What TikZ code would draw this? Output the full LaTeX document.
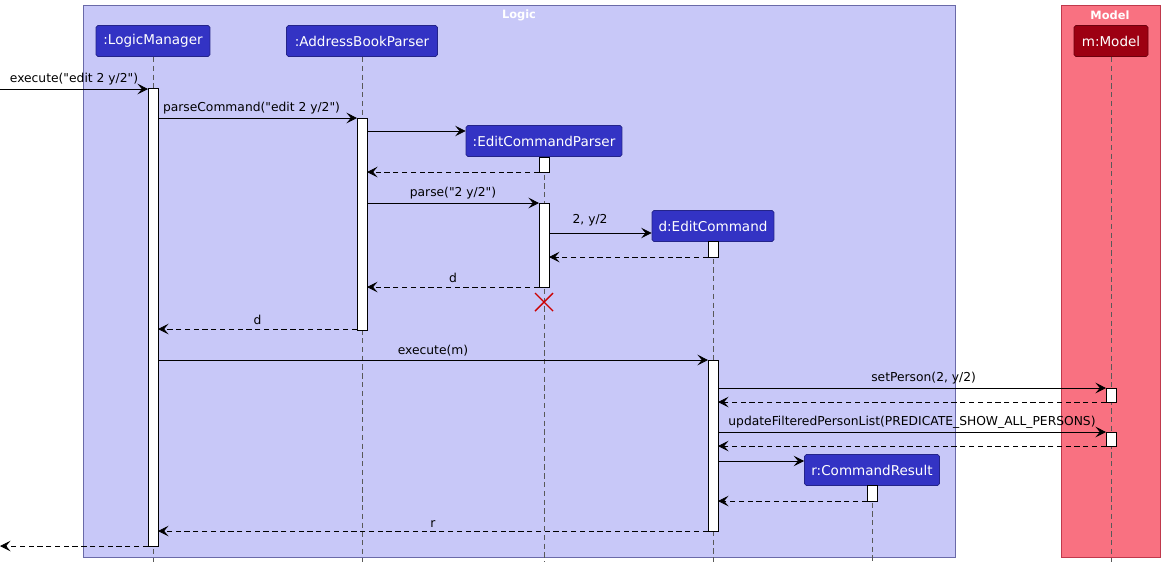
\documentclass[tikz,border=0pt]{standalone}
\usepackage{fontspec}
\setmainfont[Mapping=]{DejaVu Sans}
\usetikzlibrary{arrows.meta}
\definecolor{logicbg}{HTML}{C8C8F8}
\definecolor{logicfr}{HTML}{6A6AA8}
\definecolor{partblue}{HTML}{3333C4}
\definecolor{modelbg}{HTML}{F97181}
\definecolor{modelfr}{HTML}{C0394C}
\definecolor{partred}{HTML}{9D0012}
\newcommand\dq{\char34\relax}
\tikzset{
  part/.style={draw=#1!70!black,fill=#1,text=white,rounded corners=1pt,minimum height=0.62cm,inner xsep=3pt,font=\fontsize{7.7}{9}\selectfont},
  life/.style={densely dashed,gray!70!black,thin},
  bar/.style={draw,fill=white,thin},
  msg/.style={-{Stealth[length=6pt,width=6pt,inset=2.5pt]},thin},
  ret/.style={-{Stealth[length=6pt,width=6pt,inset=2.5pt]},thin,densely dashed},
  lbl/.style={font=\fontsize{7}{8}\selectfont,above,inner sep=2pt}
}
\begin{document}
\begin{tikzpicture}[x=0.02cm,y=-0.02cm]
\useasboundingbox (0,0) rectangle (1167,569);

% boxes
\draw[logicfr,fill=logicbg] (83,5) rectangle (955,557);
\node[text=white,font=\bfseries\fontsize{6.5}{8}\selectfont] at (519,15) {Logic};
\draw[modelfr,fill=modelbg] (1061,5) rectangle (1160,557);
\node[text=white,font=\bfseries\fontsize{6.5}{8}\selectfont] at (1110,15) {Model};

% lifelines
\draw[life] (153,57) -- (153,562);
\draw[life] (362,57) -- (362,562);
\draw[life] (544,157) -- (544,562);
\draw[life] (713,241) -- (713,562);
\draw[life] (872,485) -- (872,562);
\draw[life] (1111,57) -- (1111,562);

% participants
\node[part=partblue,minimum width=2.28cm] (lm) at (153,41) {:LogicManager};
\node[part=partblue,minimum width=3.02cm] (abp) at (362,41) {:AddressBookParser};
\node[part=partblue,minimum width=3.12cm] (ecp) at (544,141) {:EditCommandParser};
\node[part=partblue,minimum width=2.44cm] (ec) at (713,226) {d:EditCommand};
\node[part=partblue,minimum width=2.7cm] (cr) at (872,470) {r:CommandResult};
\node[part=partred,minimum width=1.48cm] (m) at (1111,41) {m:Model};

% activation bars
\draw[bar] (148,88) rectangle (158,546);
\draw[bar] (357,118) rectangle (367,330);
\draw[bar] (539,157) rectangle (549,172);
\draw[bar] (539,203) rectangle (549,287);
\draw[bar] (708,241) rectangle (718,257);
\draw[bar] (708,360) rectangle (718,531);
\draw[bar] (1106,388) rectangle (1116,402);
\draw[bar] (1106,432) rectangle (1116,446);
\draw[bar] (867,485) rectangle (877,501);

% destroy
\draw[red!80!black,thick] (535,293) -- (553,311) (553,293) -- (535,311);

% message end points
\coordinate (in0) at (0,89);      \coordinate (lm1) at (148,89);
\coordinate (lm2) at (158,118);   \coordinate (abp1) at (357,118);
\coordinate (abp2) at (367,131);
\coordinate (ecp1) at (539,172);  \coordinate (abp3) at (367,172);
\coordinate (abp4) at (367,203);  \coordinate (ecp2) at (539,203);
\coordinate (ecp3) at (549,233);
\coordinate (ec1) at (708,257);   \coordinate (ecp4) at (549,257);
\coordinate (ecp5) at (539,287);  \coordinate (abp5) at (367,287);
\coordinate (abp6) at (357,329);  \coordinate (lm3) at (158,329);
\coordinate (lm4) at (158,360);   \coordinate (ec2) at (708,360);
\coordinate (ec3) at (718,388);   \coordinate (m1) at (1106,388);
\coordinate (m2) at (1106,402);   \coordinate (ec4) at (718,402);
\coordinate (ec5) at (718,432);   \coordinate (m3) at (1106,432);
\coordinate (m4) at (1106,446);   \coordinate (ec6) at (718,446);
\coordinate (ec7) at (718,461);
\coordinate (cr1) at (867,501);   \coordinate (ec8) at (718,501);
\coordinate (ec9) at (708,531);   \coordinate (lm5) at (158,531);
\coordinate (lm6) at (148,546);   \coordinate (out0) at (0,546);

% messages
\draw[msg] (in0) -- node[lbl,pos=0.5] {execute(\dq edit 2 y/2\dq)} (lm1);
\draw[msg] (lm2) -- node[lbl,pos=0.47] {parseCommand(\dq edit 2 y/2\dq)} (abp1);
\draw[msg] (abp2) -- (ecp.west |- abp2);
\draw[ret] (ecp1) -- (abp3);
\draw[msg] (abp4) -- node[lbl] {parse(\dq 2 y/2\dq)} (ecp2);
\draw[msg] (ecp3) -- node[lbl,pos=0.4,yshift=2pt] {2, y/2} (ec.west |- ecp3);
\draw[ret] (ec1) -- (ecp4);
\draw[ret] (ecp5) -- node[lbl] {d} (abp5);
\draw[ret] (abp6) -- node[lbl] {d} (lm3);
\draw[msg] (lm4) -- node[lbl] {execute(m)} (ec2);
\draw[msg] (ec3) -- node[lbl,pos=0.53] {setPerson(2, y/2)} (m1);
\draw[ret] (m2) -- (ec4);
\draw[msg] (ec5) -- node[lbl,pos=0.5] {updateFilteredPersonList(PREDICATE\_SHOW\_ALL\_PERSONS)} (m3);
\draw[ret] (m4) -- (ec6);
\draw[msg] (ec7) -- (cr.west |- ec7);
\draw[ret] (cr1) -- (ec8);
\draw[ret] (ec9) -- node[lbl] {r} (lm5);
\draw[ret] (lm6) -- (out0);
\end{tikzpicture}
\end{document}
